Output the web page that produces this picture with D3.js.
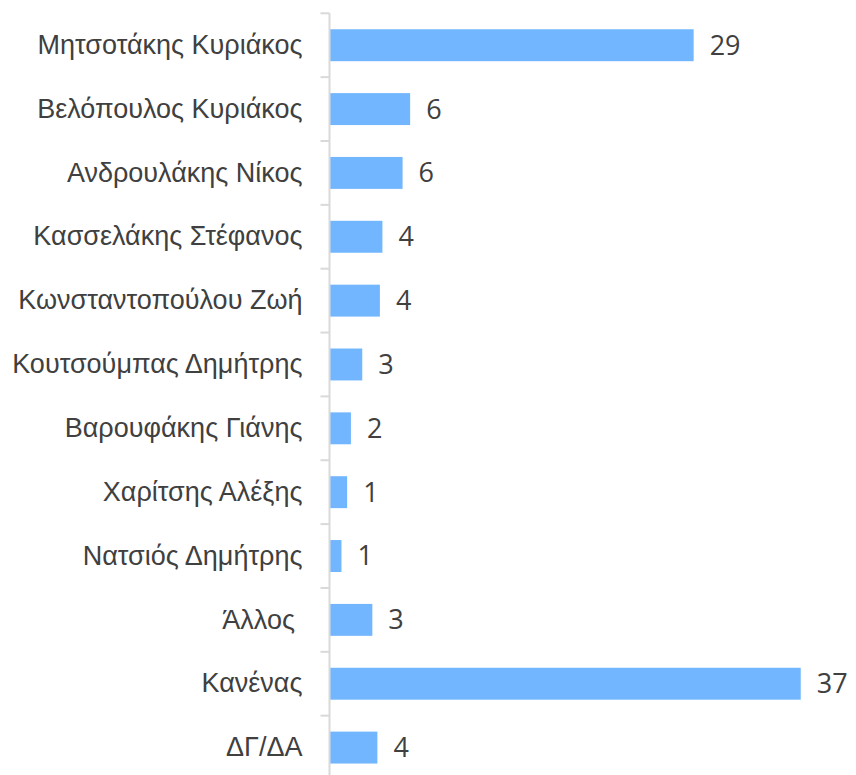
<!DOCTYPE html>
<html>
<head>
<meta charset="utf-8">
<script src="https://cdn.jsdelivr.net/npm/d3@7"></script>
<style>
  body { margin: 0; background: #fff; }
  svg { display: block; font-family: 'Open Sans', sans-serif; }
</style>
</head>
<body>
<svg id="chart"></svg>
<script>
// data
const categories = [
  'Μητσοτάκης Κυριάκος',
  'Βελόπουλος Κυριάκος',
  'Ανδρουλάκης Νίκος',
  'Κασσελάκης Στέφανος',
  'Κωνσταντοπούλου Ζωή',
  'Κουτσούμπας Δημήτρης',
  'Βαρουφάκης Γιάνης',
  'Χαρίτσης Αλέξης',
  'Νατσιός Δημήτρης',
  'Άλλος ',
  'Κανένας',
  'ΔΓ/ΔΑ'
];
// bar lengths (estimated, unrounded)
const values = [28.9, 6.4, 5.8, 4.2, 4.0, 2.6, 1.7, 1.4, 0.95, 3.4, 37.4, 3.8];
// printed labels
const labels = ['29', '6', '6', '4', '4', '3', '2', '1', '1', '3', '37', '4'];

const width = 856;
const height = 775;
const margin = {top: 13.3, left: 329.5};
const plotBottom = 779.5;

const svg = d3.select('#chart')
  .attr('width', width)
  .attr('height', height);

const x = d3.scaleLinear()
  .domain([0, 40])
  .range([margin.left, margin.left + 12.6 * 40]);

const y = d3.scaleBand()
  .domain(categories)
  .range([margin.top, plotBottom])
  .paddingInner(0.5)
  .paddingOuter(0.25);

// bars
svg.selectAll('rect.bar')
  .data(values)
  .enter()
  .append('rect')
  .attr('class', 'bar')
  .attr('x', x(0))
  .attr('y', (d, i) => y(categories[i]))
  .attr('width', d => x(d) - x(0))
  .attr('height', y.bandwidth())
  .style('fill', '#71b6ff');

// category axis, no domain (drawn below)
const yAxis = d3.axisLeft(y).tickSize(0).tickPadding(27);
const g = svg.append('g')
  .attr('transform', 'translate(' + margin.left + ',0)')
  .call(yAxis);

g.select('.domain').remove();
g.selectAll('text')
  .style('font-size', '27px')
  .style('fill', '#404040')
  .style('white-space', 'pre');

svg.append('line')
  .attr('x1', margin.left).attr('x2', margin.left)
  .attr('y1', margin.top).attr('y2', plotBottom)
  .style('stroke', '#d9d9d9')
  .style('stroke-width', 2);

// small separators between bands
const step = y.step();
svg.selectAll('line.sep')
  .data(d3.range(categories.length + 1))
  .enter()
  .append('line')
  .attr('class', 'sep')
  .attr('x1', margin.left - 9).attr('x2', margin.left)
  .attr('y1', i => margin.top + i * step)
  .attr('y2', i => margin.top + i * step)
  .style('stroke', '#d9d9d9')
  .style('stroke-width', 2);

// value labels
svg.selectAll('text.val')
  .data(values)
  .enter()
  .append('text')
  .attr('class', 'val')
  .attr('x', d => x(d) + 16)
  .attr('y', (d, i) => y(categories[i]) + y.bandwidth() / 2)
  .attr('dy', '0.35em')
  .style('font-size', '27px')
  .style('fill', '#404040')
  .text((d, i) => labels[i]);
</script>
</body>
</html>
